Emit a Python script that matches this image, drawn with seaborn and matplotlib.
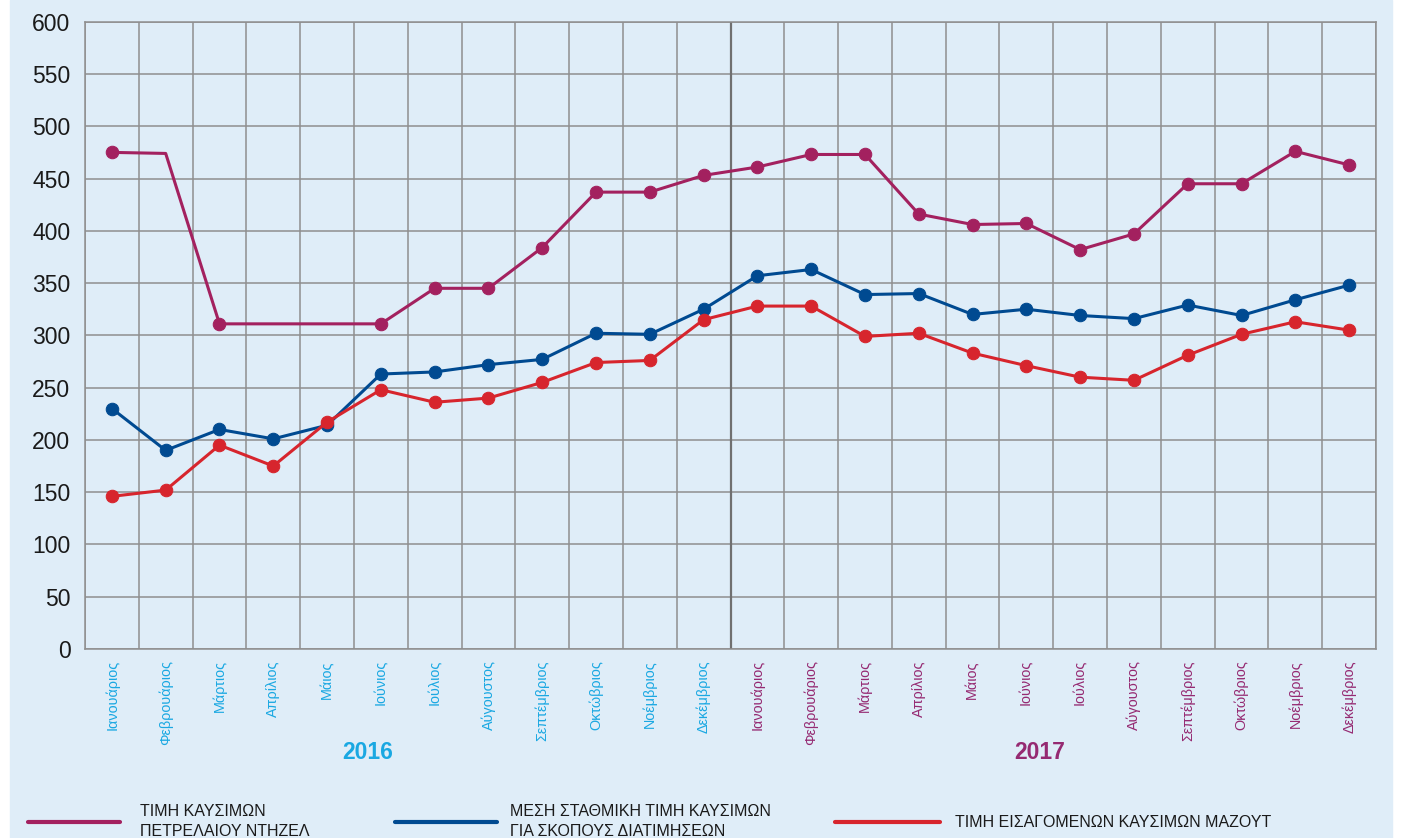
import numpy as np
import pandas as pd
import matplotlib.pyplot as plt
import matplotlib.transforms as mtrans
import seaborn as sns
from matplotlib.lines import Line2D
from matplotlib.patches import Rectangle

# ----- style ----- #
sns.set_style("white")
plt.rcParams['font.family'] = ['Liberation Sans', 'DejaVu Sans']
NARROW = ['Liberation Sans Narrow', 'Liberation Sans', 'DejaVu Sans']

# ----- data ----- #
months = ["Ιανουάριος", "Φεβρουάριος", "Μάρτιος", "Απρίλιος", "Μάιος", "Ιούνιος",
          "Ιούλιος", "Αύγουστος", "Σεπτέμβριος", "Οκτώβριος", "Νοέμβριος", "Δεκέμβριος"]
years = ["2016", "2017"]

diesel = [475, 474, 311, None, None, 311, 345, 345, 384, 437, 437, 453,
          461, 473, 473, 416, 406, 407, 382, 397, 445, 445, 476, 463]
diesel_unmarked = [1]  # Feb 2016 has no dot in the original
weighted = [230, 190, 210, 201, 214, 263, 265, 272, 277, 302, 301, 325,
            357, 363, 339, 340, 320, 325, 319, 316, 329, 319, 334, 348]
mazout = [146, 152, 195, 175, 217, 248, 236, 240, 255, 274, 276, 315,
          328, 328, 299, 302, 283, 271, 260, 257, 281, 301, 313, 305]

series_names = ["ΤΙΜΗ ΚΑΥΣΙΜΩΝ\nΠΕΤΡΕΛΑΙΟΥ ΝΤΗΖΕΛ",
                "ΜΕΣΗ ΣΤΑΘΜΙΚΗ ΤΙΜΗ ΚΑΥΣΙΜΩΝ\nΓΙΑ ΣΚΟΠΟΥΣ ΔΙΑΤΙΜΗΣΕΩΝ",
                "ΤΙΜΗ ΕΙΣΑΓΟΜΕΝΩΝ ΚΑΥΣΙΜΩΝ ΜΑΖΟΥΤ"]
series_colors = ["#a3215f", "#004a91", "#d7252d"]
year_colors = ["#1aa8e2", "#952a72"]
yticks = list(range(0, 601, 50))

n = len(months) * len(years)
rows = []
for name, vals in zip(series_names, [diesel, weighted, mazout]):
    for i, v in enumerate(vals):
        rows.append({"x": i + 0.5, "value": v, "series": name})
df = pd.DataFrame(rows)

# ----- figure ----- #
fig = plt.figure(figsize=(14.05, 8.38), dpi=100, facecolor="white")
fig.patches.append(Rectangle((10 / 1405, 0), 1382 / 1405, 1, transform=fig.transFigure,
                             color="#dfedf8", zorder=-10))
ax = fig.add_axes([85 / 1405, 1 - 649 / 838, 1291 / 1405, 627.3 / 838])
ax.set_facecolor("none")

grid_col = "#8f8f8f"
ax.set_xlim(0, n)
ax.set_ylim(0, 600)
ax.set_xticks(range(n + 1))
ax.set_xticklabels([])
ax.set_xticks(np.arange(n) + 0.5, minor=True)
ax.set_xticklabels(months * len(years), minor=True, rotation=90, va="top", ha="center",
                   fontsize=10.4, family=NARROW)
for i, lab in enumerate(ax.get_xticklabels(minor=True)):
    lab.set_color(year_colors[i // len(months)])
ax.tick_params(axis="x", which="major", length=16.5, width=1.1, color=grid_col, direction="out")
ax.tick_params(axis="x", which="minor", length=0, pad=8)
ax.set_yticks(yticks)
ax.tick_params(axis="y", length=6, width=1.1, color=grid_col, pad=4.5, labelsize=16.5,
               labelcolor="#1a1a1a")
ax.grid(True, which="major", color=grid_col, lw=1.1)
ax.axvline(len(months), color="#707070", lw=1.6, zorder=1)
for s in ax.spines.values():
    s.set_color(grid_col)
    s.set_linewidth(1.1)

for k, (name, col) in enumerate(zip(series_names, series_colors)):
    d = df[df.series == name].dropna().reset_index(drop=True)
    if k == 0:
        marks = [j for j in range(len(d)) if int(d.x[j]) not in diesel_unmarked]
    else:
        marks = None
    sns.lineplot(data=d, x="x", y="value", color=col, lw=2.2, marker="o", markersize=9,
                 markeredgecolor=col, markevery=marks, ax=ax, zorder=3, sort=False)
ax.set_xlabel("")
ax.set_ylabel("")

# year labels
year_label_x = [5.25, 17.75]
trans = mtrans.blended_transform_factory(ax.transData, fig.transFigure)
for yr, xp, col in zip(years, year_label_x, year_colors):
    ax.text(xp, 1 - 752 / 838, yr, transform=trans, ha="center",
            va="center", fontsize=16.5, fontweight="bold", color=col, family=NARROW)

# legend drawn along the bottom
leg_lines = [(28, 120, 140), (395, 497, 510), (835, 940, 955)]
for (x0, x1, xt), name, col in zip(leg_lines, series_names, series_colors):
    yl = 1 - 822 / 838
    fig.add_artist(Line2D([x0 / 1405, x1 / 1405], [yl, yl], color=col, lw=3,
                          solid_capstyle="round", transform=fig.transFigure))
    if "\n" in name:
        fig.text(xt / 1405, 1 - 804 / 838, name, va="top", ha="left", fontsize=11.5,
                 color="#1a1a1a", family=NARROW, linespacing=1.4)
    else:
        fig.text(xt / 1405, yl, name, va="center", ha="left", fontsize=11.5,
                 color="#1a1a1a", family=NARROW)

plt.savefig("out.png", dpi=100, facecolor=fig.get_facecolor())
